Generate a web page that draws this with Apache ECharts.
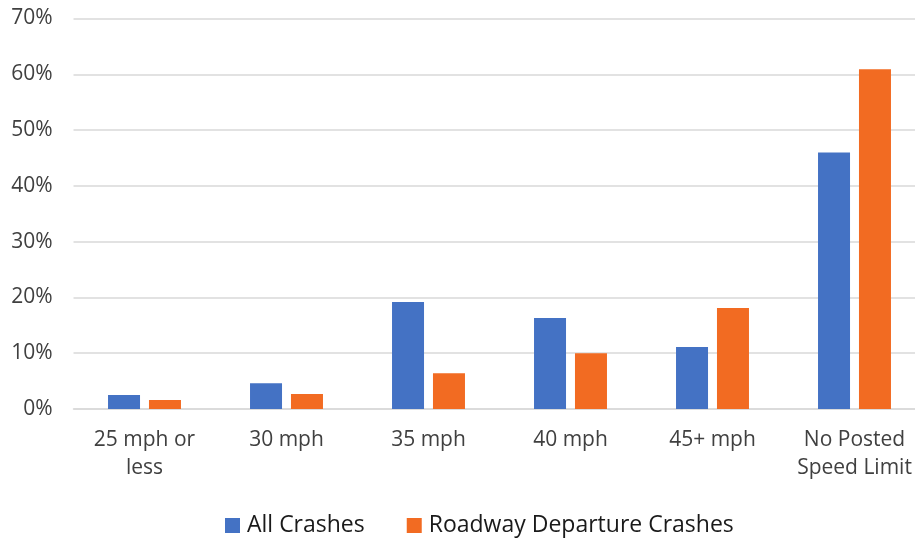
<!DOCTYPE html>
<html>
<head>
<meta charset="utf-8">
<script src="https://cdn.jsdelivr.net/npm/echarts@6/dist/echarts.min.js"></script>
<style>
  html, body { margin: 0; padding: 0; background: #fff; }
  #chart { width: 915px; height: 541px; }
</style>
</head>
<body>
<div id="chart"></div>
<script>
// Share of crashes by posted speed limit
const categories = ['25 mph or\nless', '30 mph', '35 mph', '40 mph', '45+ mph', 'No Posted\nSpeed Limit'];
const allCrashes = [2.5, 4.6, 19.2, 16.3, 11.1, 46.0];
const roadwayDeparture = [1.6, 2.7, 6.4, 10.0, 18.1, 60.9];
const seriesNames = ['All Crashes', 'Roadway Departure Crashes'];
const yTicks = { min: 0, max: 70, interval: 10 };

const fontFamily = '"Open Sans", "Noto Sans", sans-serif';
const chart = echarts.init(document.getElementById('chart'), null, { renderer: 'canvas' });

chart.setOption({
  animation: false,
  backgroundColor: '#ffffff',
  color: ['#4472C4', '#F26B22'],
  grid: {
    left: 73.5, top: 18.5, width: 852, height: 390.5,
    containLabel: false, outerBoundsMode: 'none'
  },
  legend: {
    top: 509,
    left: 220,
    itemWidth: 15,
    itemHeight: 15,
    itemGap: 42,
    icon: 'rect',
    textStyle: { fontFamily, fontSize: 23, color: '#1a1a1a', padding: [0, 0, 0, 2] },
    data: seriesNames
  },
  xAxis: {
    type: 'category',
    data: categories,
    axisLine: { lineStyle: { color: '#D9D9D9', width: 1.5 } },
    axisTick: { show: false },
    axisLabel: { fontFamily, fontSize: 21, color: '#404040', margin: 17, lineHeight: 28, interval: 0 }
  },
  yAxis: {
    type: 'value',
    min: yTicks.min,
    max: yTicks.max,
    interval: yTicks.interval,
    axisLine: { show: false },
    axisTick: { show: false },
    splitLine: { lineStyle: { color: '#D9D9D9', width: 1.5 } },
    axisLabel: { fontFamily, fontSize: 21, color: '#404040', margin: 21, formatter: v => v + '%' }
  },
  series: [
    { name: seriesNames[0], type: 'bar', data: allCrashes, barWidth: 32, barGap: '28%' },
    { name: seriesNames[1], type: 'bar', data: roadwayDeparture, barWidth: 32, barGap: '28%' }
  ]
});
</script>
</body>
</html>
